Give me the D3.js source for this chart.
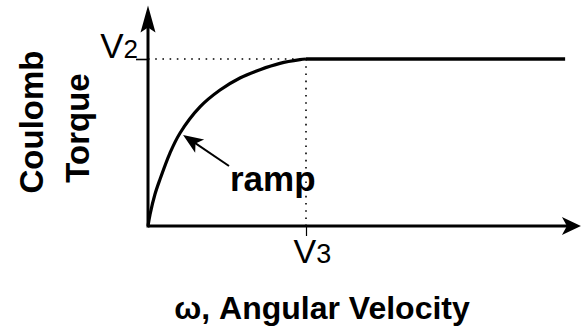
<!DOCTYPE html>
<html>
<head>
<meta charset="utf-8">
<script src="https://cdn.jsdelivr.net/npm/d3@7"></script>
<style>
  html, body { margin: 0; padding: 0; background: #fff; }
  svg { display: block; }
</style>
</head>
<body>
<svg id="chart" width="582" height="332"></svg>
<script>
// Ramp of Coulomb torque versus angular velocity.
// x in units of V3, y in units of V2.
const rampX = [0, 0.013, 0.044, 0.076, 0.139, 0.203, 0.329, 0.456, 0.582, 0.709, 0.835, 0.962, 1];
const rampY = [0, 0.07, 0.19, 0.28, 0.437, 0.557, 0.713, 0.814, 0.886, 0.936, 0.974, 0.996, 1];
const plateauX = [1, 2.64];
const plateauY = [1, 1];
const xTicks = [1];
const xTickSub = ["3"];
const yTicks = [1];
const yTickSub = ["2"];
const xAxisMax = 2.74;
const yAxisMax = 1.32;

const svg = d3.select("#chart");
const x = d3.scaleLinear().domain([0, 1]).range([148, 306]);
const y = d3.scaleLinear().domain([0, 1]).range([226, 59]);

const ink = "#000";
const font = "'Liberation Sans', Arial, sans-serif";

// Guide lines at the ramp corner
svg.append("line")
  .attr("x1", x(0)).attr("x2", x(1)).attr("y1", y(1)).attr("y2", y(1))
  .attr("stroke", ink).attr("stroke-width", 1.6).attr("stroke-dasharray", "1.6,5.6");
svg.append("line")
  .attr("x1", x(1)).attr("x2", x(1)).attr("y1", y(1)).attr("y2", y(0))
  .attr("stroke", ink).attr("stroke-width", 1.6).attr("stroke-dasharray", "1.6,5.6");

// Axis ticks and labels
const xAxis = d3.axisBottom(x).tickValues(xTicks).tickSize(10).tickFormat(() => "");
const gx = svg.append("g").attr("transform", `translate(0,${y(0)})`).call(xAxis);
gx.select(".domain").remove();
gx.selectAll(".tick line").attr("stroke", ink).attr("stroke-width", 1.2);
gx.selectAll(".tick").each(function(d, i) {
  const t = d3.select(this).append("text")
    .attr("x", -13).attr("y", 37)
    .attr("text-anchor", "start")
    .attr("fill", ink)
    .style("font-family", font);
  t.append("tspan").attr("font-size", 34).text("V");
  t.append("tspan").attr("font-size", 27).text(xTickSub[i]);
});

const yAxis = d3.axisLeft(y).tickValues(yTicks).tickSize(12).tickFormat(() => "");
const gy = svg.append("g").attr("transform", `translate(${x(0)},0)`).call(yAxis);
gy.select(".domain").remove();
gy.selectAll(".tick line").attr("stroke", ink).attr("stroke-width", 1.6);
gy.selectAll(".tick").each(function(d, i) {
  const t = d3.select(this).append("text")
    .attr("x", -10).attr("y", -1.5)
    .attr("text-anchor", "end")
    .attr("fill", ink)
    .style("font-family", font);
  t.append("tspan").attr("font-size", 35).text("V");
  t.append("tspan").attr("font-size", 26).text(yTickSub[i]);
});

// Axis lines with arrowheads
svg.append("line")
  .attr("x1", x(0)).attr("x2", x(xAxisMax) - 12).attr("y1", y(0)).attr("y2", y(0))
  .attr("stroke", ink).attr("stroke-width", 3);
svg.append("line")
  .attr("x1", x(0)).attr("x2", x(0)).attr("y1", y(0) + 1.5).attr("y2", y(yAxisMax) + 16)
  .attr("stroke", ink).attr("stroke-width", 3);
const xe = x(xAxisMax), ye = y(0);
svg.append("path")
  .attr("d", `M${xe},${ye} L${xe - 19},${ye - 9} L${xe - 14},${ye} L${xe - 19},${ye + 9} Z`)
  .attr("fill", ink);
const yx = x(0), yt = y(yAxisMax);
svg.append("path")
  .attr("d", `M${yx},${yt} L${yx + 7.5},${yt + 27} L${yx},${yt + 22} L${yx - 7.5},${yt + 27} Z`)
  .attr("fill", ink);

// Ramp curve and plateau
const line = d3.line().x(d => x(d[0])).y(d => y(d[1])).curve(d3.curveCatmullRom.alpha(0.5));
svg.append("path")
  .datum(rampX.map((v, i) => [v, rampY[i]]))
  .attr("d", line)
  .attr("fill", "none").attr("stroke", ink).attr("stroke-width", 3.2);
svg.append("path")
  .datum(plateauX.map((v, i) => [v, plateauY[i]]))
  .attr("d", d3.line().x(d => x(d[0])).y(d => y(d[1])))
  .attr("fill", "none").attr("stroke", ink).attr("stroke-width", 3.4);

// "ramp" callout
const arrowTip = [x(rampX[5]) + 3, y(rampY[5]) + 2];
const arrowTail = [229, 166];
const ang = Math.atan2(arrowTail[1] - arrowTip[1], arrowTail[0] - arrowTip[0]);
svg.append("line")
  .attr("x1", arrowTail[0]).attr("y1", arrowTail[1])
  .attr("x2", arrowTip[0] + Math.cos(ang) * 12).attr("y2", arrowTip[1] + Math.sin(ang) * 12)
  .attr("stroke", ink).attr("stroke-width", 2);
{
  const L = 20, W = 8;
  const bx = arrowTip[0] + Math.cos(ang) * L, by = arrowTip[1] + Math.sin(ang) * L;
  const nx = -Math.sin(ang) * W, ny = Math.cos(ang) * W;
  const mx = arrowTip[0] + Math.cos(ang) * (L - 5), my = arrowTip[1] + Math.sin(ang) * (L - 5);
  svg.append("path")
    .attr("d", `M${arrowTip[0]},${arrowTip[1]} L${bx + nx},${by + ny} L${mx},${my} L${bx - nx},${by - ny} Z`)
    .attr("fill", ink);
}
svg.append("text")
  .attr("x", 230).attr("y", 191)
  .attr("font-size", 35).attr("font-weight", "bold")
  .attr("fill", ink)
  .style("font-family", font)
  .text("ramp");

// Axis titles
svg.append("text")
  .attr("transform", "translate(43,122) rotate(-90)")
  .attr("text-anchor", "middle")
  .attr("font-size", 33).attr("font-weight", "bold").attr("fill", ink)
  .style("font-family", font)
  .text("Coulomb");
svg.append("text")
  .attr("transform", "translate(89,128) rotate(-90)")
  .attr("text-anchor", "middle")
  .attr("font-size", 33).attr("font-weight", "bold").attr("fill", ink)
  .style("font-family", font)
  .text("Torque");
svg.append("text")
  .attr("x", 322).attr("y", 319)
  .attr("text-anchor", "middle")
  .attr("font-size", 32).attr("font-weight", "bold").attr("fill", ink)
  .style("font-family", font)
  .text("ω, Angular Velocity");
</script>
</body>
</html>
